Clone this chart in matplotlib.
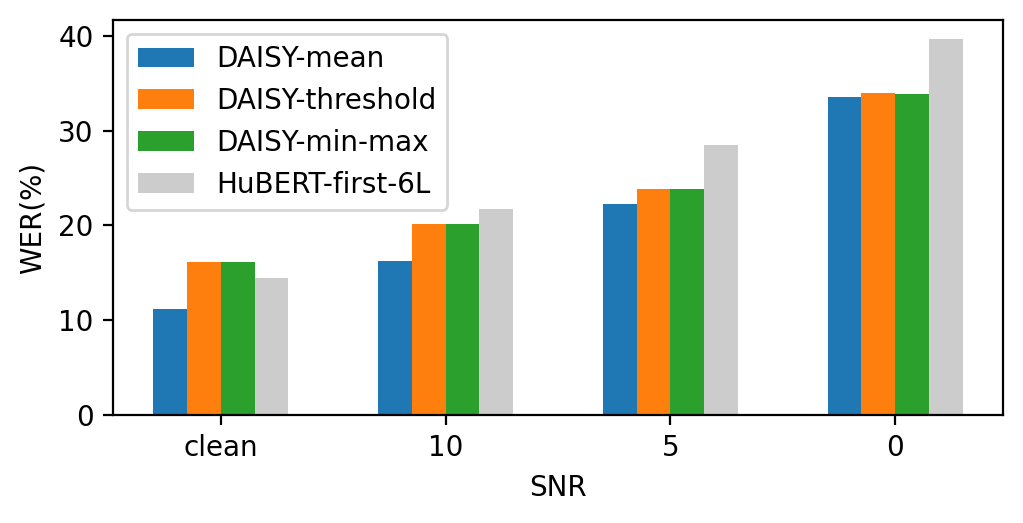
import matplotlib
matplotlib.use("Agg")
import matplotlib.pyplot as plt
import numpy as np

categories = ["clean", "10", "5", "0"]
series_names = ["DAISY-mean", "DAISY-threshold", "DAISY-min-max", "HuBERT-first-6L"]
daisy_mean = [11.2, 16.25, 22.3, 33.6]
daisy_threshold = [16.15, 20.15, 23.8, 34.0]
daisy_minmax = [16.15, 20.15, 23.8, 33.9]
hubert_first6 = [14.5, 21.75, 28.5, 39.7]
colors = ["#1f77b4", "#ff7f0e", "#2ca02c", "#cccccc"]

series = [daisy_mean, daisy_threshold, daisy_minmax, hubert_first6]

fig = plt.figure(figsize=(5.115, 2.615), dpi=200)
ax = fig.add_axes([113/1023, 1-415/523, (1003-113)/1023, (415-20)/523])
x = np.arange(len(categories))
w = 0.15
for i, (name, vals, c) in enumerate(zip(series_names, series, colors)):
    ax.bar(x + (i - 1.5) * w, vals, w, label=name, color=c)
ax.set_xticks(x)
ax.set_xticklabels(categories)
ax.set_xlabel("SNR")
ax.set_ylabel("WER(%)")
ax.legend(loc="upper left")
fig.savefig("out.png", dpi=200)
